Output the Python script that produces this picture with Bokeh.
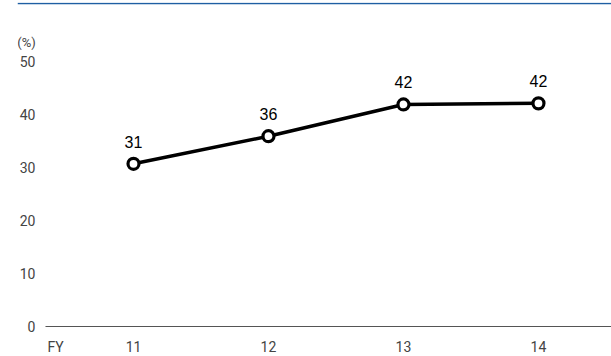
from bokeh.plotting import figure
from bokeh.models import ColumnDataSource, FixedTicker, Label, Range1d, Span
from bokeh.core.properties import value
from bokeh.embed import file_html
from bokeh.resources import INLINE

# data
years = ["11", "12", "13", "14"]
x_pos = [11, 12, 13, 14]
ratio = [30.7, 35.9, 41.9, 42.1]
labels = ["31", "36", "42", "42"]
y_ticks = [0, 10, 20, 30, 40, 50]
fy_label = "FY"
unit_label = "(%)"

# layout helpers (data-space positions of decorations)
x_start, x_end = 10.1407, 14.541
y_start, y_end = -5.66, 61.13
axis_x = 10.348      # where the y labels / baseline begin
fy_x = 10.422
unit_x, unit_y = 10.207, 53.6
top_rule_y = 60.94

src = ColumnDataSource(dict(x=x_pos, y=ratio, lab=labels))

p = figure(width=611, height=356, output_backend="svg", toolbar_location=None,
           x_range=Range1d(x_start, x_end), y_range=Range1d(y_start, y_end),
           min_border_left=17, min_border_right=0, min_border_top=2,
           min_border_bottom=0)
p.outline_line_color = None
p.grid.grid_line_color = None
p.background_fill_color = "white"
p.border_fill_color = "white"

# top rule
p.add_layout(Span(location=top_rule_y, dimension="width",
                  line_color="#1f5fa3", line_width=1.5))

# baseline
p.segment(x0=[axis_x], y0=[0], x1=[x_end], y1=[0], line_color="#555555", line_width=1.2)

# line + markers
p.line("x", "y", source=src, line_color="black", line_width=3.5)
p.scatter("x", "y", source=src, size=11, fill_color="white",
          line_color="black", line_width=3.2)
p.text("x", "y", text="lab", source=src, y_offset=-16,
       text_align="center", text_baseline="bottom",
       text_font=value("Liberation Sans"), text_font_size="16px",
       text_color="black")

# x axis (drawn inside the frame at y = 0)
p.xaxis.fixed_location = 0
p.xaxis.ticker = FixedTicker(ticks=[fy_x] + x_pos)
p.xaxis.major_label_overrides = {fy_x: fy_label, **{x: y for x, y in zip(x_pos, years)}}
p.xaxis.axis_line_color = None
p.xaxis.major_tick_line_color = None
p.xaxis.minor_tick_line_color = None
p.xaxis.major_label_standoff = 6
p.xaxis.major_label_text_font = "Roboto"
p.xaxis.major_label_text_font_size = "14px"
p.xaxis.major_label_text_color = "#444444"

# y axis (drawn inside the frame at axis_x)
p.yaxis.fixed_location = axis_x
p.yaxis.ticker = FixedTicker(ticks=y_ticks)
p.yaxis.axis_line_color = None
p.yaxis.major_tick_line_color = None
p.yaxis.minor_tick_line_color = None
p.yaxis.major_label_standoff = 4
p.yaxis.major_label_text_font = "Roboto"
p.yaxis.major_label_text_font_size = "14px"
p.yaxis.major_label_text_color = "#444444"

# unit label
p.add_layout(Label(x=unit_x, y=unit_y, text=unit_label,
                   text_align="center", text_baseline="middle",
                   text_font="Roboto", text_font_size="13px", text_color="#444444"))

open("out.html", "w").write(file_html(p, INLINE))
